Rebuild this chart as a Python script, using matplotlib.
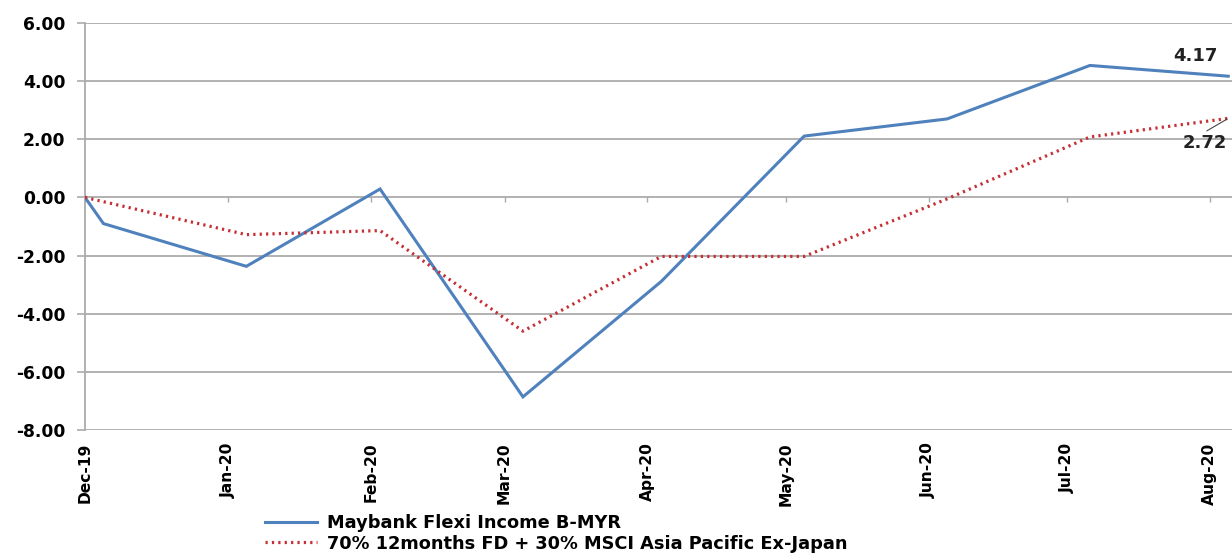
import pandas as pd
import matplotlib
matplotlib.use('Agg')
import matplotlib.pyplot as plt
import matplotlib.dates as mdates
from matplotlib.lines import Line2D

# Cumulative return (%) of the fund vs its benchmark
fund_dates = pd.to_datetime(['2019-12-01', '2019-12-05', '2020-01-05', '2020-02-03', '2020-03-05',
                             '2020-04-04', '2020-05-05', '2020-06-05', '2020-07-06', '2020-08-05'])
fund_vals = [0.00, -0.90, -2.37, 0.29, -6.86, -2.89, 2.11, 2.70, 4.54, 4.17]

bench_dates = pd.to_datetime(['2019-12-01', '2020-01-05', '2020-02-03', '2020-03-05',
                              '2020-04-04', '2020-05-05', '2020-06-05', '2020-07-06', '2020-08-05'])
bench_vals = [0.00, -1.28, -1.14, -4.60, -2.03, -2.03, -0.05, 2.08, 2.72]

fund_name = 'Maybank Flexi Income B-MYR'
bench_name = '70% 12months FD + 30% MSCI Asia Pacific Ex-Japan'

month_ticks = pd.date_range('2019-12-01', '2020-08-01', freq='MS')

blue = '#4F81BD'
red = '#C62F33'
grid_c = '#ababab'

fig = plt.figure(figsize=(12.32, 5.53), dpi=100)
W, H = 1232, 553
# axes runs past the right edge of the figure
ax = fig.add_axes([85 / W, 1 - 430 / H, 1.06, (430 - 23) / H])

x0 = pd.Timestamp('2019-12-01')
x1 = x0 + pd.Timedelta(days=(1.06 * W) / 4.61)
ax.set_xlim(x0, x1)
ax.set_ylim(-8, 6)
ax.set_yticks(range(-8, 7, 2))
ax.yaxis.set_major_formatter(matplotlib.ticker.FormatStrFormatter('%.2f'))

for v in range(-8, 7, 2):
    ax.axhline(v, color=grid_c, lw=1.3, zorder=1)
ax.vlines(month_ticks, -0.15, 0, color=grid_c, lw=1.0, zorder=1)

ax.plot(fund_dates, fund_vals, color=blue, lw=2.2, zorder=3, solid_joinstyle='miter')
ax.plot(bench_dates, bench_vals, color=red, lw=2.3, linestyle=(0, (0.7, 1.3)),
        dash_capstyle='butt', zorder=3)

for s in ['top', 'right', 'bottom']:
    ax.spines[s].set_visible(False)
ax.spines['left'].set_color(grid_c)
ax.spines['left'].set_linewidth(1.3)

ax.set_xticks(month_ticks)
ax.xaxis.set_major_formatter(mdates.DateFormatter('%b-%y'))
ax.tick_params(axis='x', length=0, pad=9)
ax.tick_params(axis='y', length=6, width=1.2, color=grid_c, pad=8)
for lab in ax.get_xticklabels():
    lab.set_rotation(90)
    lab.set_fontweight('bold')
    lab.set_fontsize(11.2)
    lab.set_va('top')
for lab in ax.get_yticklabels():
    lab.set_fontweight('bold')
    lab.set_fontsize(12.3)

# value labels at the last point
ax.annotate('%.2f' % fund_vals[-1], (fund_dates[-1], fund_vals[-1]),
            xytext=(-33, 20), textcoords='offset pixels', ha='center', va='center',
            fontsize=13, fontweight='bold', color='#222222')
ax.annotate('%.2f' % bench_vals[-1], (bench_dates[-1], bench_vals[-1]),
            xytext=(-23, -25), textcoords='offset pixels', ha='center', va='center',
            fontsize=13, fontweight='bold', color='#222222',
            arrowprops=dict(arrowstyle='-', color='#444444', lw=0.8,
                            shrinkA=1, shrinkB=1, relpos=(0.4, 1.0)))

handles = [Line2D([], [], color=blue, lw=2.2),
           Line2D([], [], color=red, lw=2.3, linestyle=(0, (0.7, 1.3)))]
fig.legend(handles, [fund_name, bench_name], loc='upper left',
           bbox_to_anchor=(265 / W, 1 - 514 / H), frameon=False,
           prop={'size': 12.8, 'weight': 'semibold'}, handlelength=2.95,
           handletextpad=0.55, labelspacing=0.15, borderaxespad=0, borderpad=0)

fig.savefig('out.png', dpi=100)
